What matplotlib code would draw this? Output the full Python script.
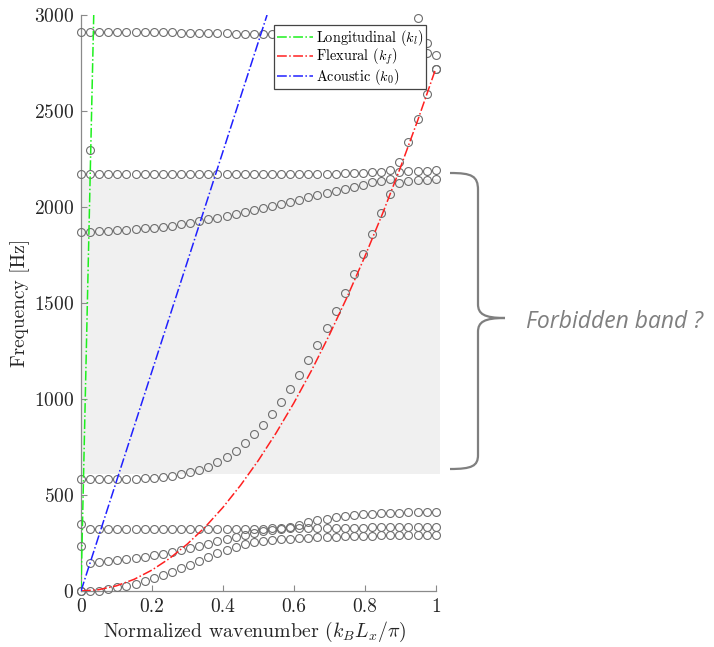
import numpy as np
import matplotlib
matplotlib.use("Agg")
import matplotlib.pyplot as plt
from matplotlib.path import Path
from matplotlib.patches import PathPatch

# normalised wavenumber grid of the band-structure sweep
wavenumber = np.linspace(0, 1, 40)

nan = np.nan
# sorted eigenfrequencies [Hz], one list per branch
branch_1 = [0, 0, 2, 9, 19, 28, 38, 52, 66, 82, 101, 120, 137, 158, 177, 196, 213, 231, 245, 255,
            260, 266, 269, 273, 276, 278, 280, 281, 283, 285, 286, 288, 288, 290, 290, 290, 292, 292, 292, 292]
branch_2 = [0, 148, 151, 156, 160, 165, 172, 177, 186, 194, 205, 214, 226, 236, 247, 259, 271, 281, 290, 302,
            311, 318, 325, 335, 345, 358, 368, 377, 384, 389, 394, 400, 403, 405, 406, 408, 410, 410, 411, 413]
branch_3 = [347] + [325] * 20 + [326, 326, 327, 327, 328, 328, 329, 329, 330, 330,
                                  330, 331, 331, 331, 332, 332, 332, 332, 332]
branch_4 = [583, 583, 583, 583, 583, 583, 585, 587, 590, 594, 601, 608, 618, 630, 648, 670, 698, 731, 769, 816,
            866, 924, 986, 1054, 1125, 1201, 1283, 1370, 1458, 1553, 1651, 1753, 1859, 1967, 2066, 2233, 2340,
            2460, 2587, 2720]
branch_5 = [1872, 1872, 1875, 1877, 1879, 1882, 1886, 1889, 1893, 1898, 1903, 1910, 1917, 1925, 1936, 1944,
            1953, 1963, 1974, 1984, 1995, 2005, 2016, 2028, 2038, 2050, 2061, 2071, 2082, 2092, 2103, 2115,
            2128, 2137, 2144, 2125, 2137, 2141, 2142, 2144]
branch_6 = [2170] * 28 + [2172, 2175, 2177, 2179, 2181, 2184, 2193, 2184, 2188, 2189, 2189, 2191]
branch_7 = [2913, 2913, 2913, 2913, 2912, 2912, 2911, 2911, 2910, 2909, 2909, 2908, 2907, 2906, 2906, 2905,
            2904, 2903, 2902, 2901, 2900, 2899, 2897, 2896, 2894, 2893, 2891, 2889, 2887, 2885, 2882, 2880,
            2877, 2874, 2870, 2866, 2862, 2858, 2852, 2792]
branch_8 = [nan] * 37 + [2982, 2800, 2717]
# isolated modes
extra_k = [0, 0.0256]
extra_f = [234, 2297]

# analytical dispersion lines
long_k = [0, 0.0359]
long_f = [0, 3000]
acou_k = [0, 0.5245]
acou_f = [0, 3000]
flex_k = [0, 0.05, 0.1, 0.15, 0.2, 0.25, 0.3, 0.35, 0.4, 0.45, 0.5, 0.55, 0.6, 0.65, 0.7, 0.75, 0.8,
          0.85, 0.9, 0.95, 1.0]
flex_f = [0, 7, 27, 61, 109, 170, 245, 333, 435, 551, 680, 823, 979, 1149, 1333, 1530, 1741, 1965,
          2203, 2455, 2720]

band_low, band_high = 608, 2145

plt.rcParams["font.family"] = "serif"
plt.rcParams["font.serif"] = ["cmr10"]
plt.rcParams["mathtext.fontset"] = "cm"
plt.rcParams["axes.formatter.use_mathtext"] = True

W, H = 714, 647
fig = plt.figure(figsize=(W / 100, H / 100), dpi=100)
ax = fig.add_axes([81 / W, 1 - 591 / H, 354.7 / W, 576 / H])

ax.fill_between([0, 1.011], band_low, band_high, color="#f0f0f0", lw=0, zorder=0, clip_on=False)

marker_style = dict(mfc="none", mec="#6e6e6e", ms=5.7, mew=0.8, clip_on=False, zorder=3)
for branch in [branch_1, branch_2, branch_3, branch_4, branch_5, branch_6, branch_7, branch_8]:
    ax.plot(wavenumber, branch, "o", **marker_style)
ax.plot(extra_k, extra_f, "o", **marker_style)

ax.plot(long_k, long_f, "-.", color="#1ef01e", lw=1.1, label=r"Longitudinal ($k_l$)", zorder=4)
ax.plot(flex_k, flex_f, "-.", color="#ff2020", lw=1.1, label=r"Flexural ($k_f$)", zorder=4)
ax.plot(acou_k, acou_f, "-.", color="#2020ff", lw=1.1, label=r"Acoustic ($k_0$)", zorder=4)

ax.set_xlim(0, 1)
ax.set_ylim(0, 3000)
ax.set_xticks([0, 0.2, 0.4, 0.6, 0.8, 1])
ax.set_xticklabels(["0", "0.2", "0.4", "0.6", "0.8", "1"])
ax.set_yticks([0, 500, 1000, 1500, 2000, 2500, 3000])
for side in ["top", "right"]:
    ax.spines[side].set_visible(False)
for side in ["left", "bottom"]:
    ax.spines[side].set_color("#8a8a8a")
    ax.spines[side].set_linewidth(0.9)
ax.tick_params(direction="in", length=4, width=0.8, color="#8a8a8a", labelcolor="#262626",
               labelsize=14, pad=5)
ax.set_facecolor("none")

ax.set_xlabel(r"Normalized wavenumber ($k_B L_x/\pi$)", fontsize=14.3, color="#262626")
ax.set_ylabel("Frequency [Hz]", fontsize=14, color="#262626")
ax.xaxis.set_label_coords(0.49, -0.05)
ax.yaxis.set_label_coords(-0.145, 0.5)

leg = ax.legend(loc="upper right", bbox_to_anchor=(0.9735, 0.983), fontsize=10.3, handlelength=2.5,
                borderpad=0.2, labelspacing=-0.05, handletextpad=0.25, borderaxespad=0,
                fancybox=False, framealpha=1, edgecolor="#444444")
leg.get_frame().set_linewidth(0.9)


def fig_xy(px, py):
    return (px / W, 1 - py / H)


# curly brace marking the gap
pts = [(450, 173), (472, 173), (478, 176), (478, 190),
       (478, 304),
       (478, 314), (484, 318), (505, 318),
       (484, 318), (478, 322), (478, 332),
       (478, 455),
       (478, 466), (472, 469), (450, 469)]
codes = [Path.MOVETO, Path.CURVE4, Path.CURVE4, Path.CURVE4,
         Path.LINETO,
         Path.CURVE4, Path.CURVE4, Path.CURVE4,
         Path.CURVE4, Path.CURVE4, Path.CURVE4,
         Path.LINETO,
         Path.CURVE4, Path.CURVE4, Path.CURVE4]
brace = Path([fig_xy(*p) for p in pts], codes)
fig.add_artist(PathPatch(brace, fc="none", ec="#7f7f7f", lw=1.6, transform=fig.transFigure))

fig.text(*fig_xy(526, 322), "Forbidden band ?", family="Open Sans", style="italic", fontsize=16.5,
         color="#7f7f7f", ha="left", va="center")

fig.savefig("out.png", dpi=100)
